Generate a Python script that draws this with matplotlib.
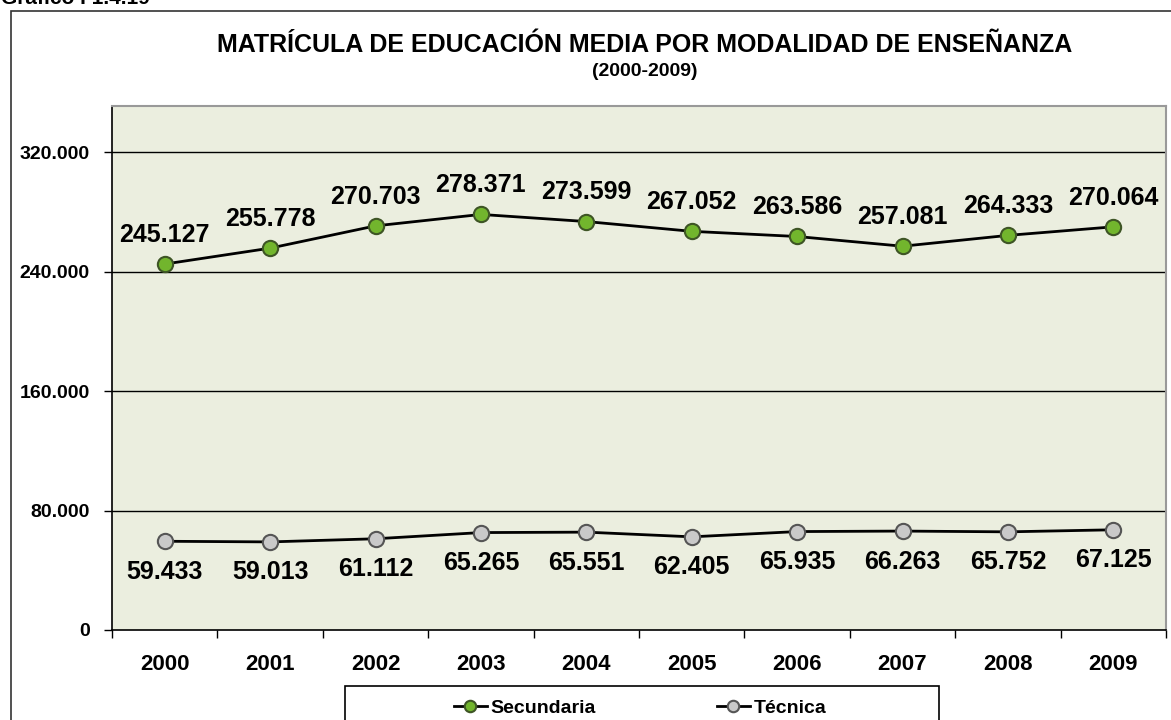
import numpy as np
import matplotlib.pyplot as plt
from matplotlib.patches import Rectangle

plt.rcParams['font.family'] = ['Liberation Sans', 'DejaVu Sans']
plt.rcParams['font.weight'] = 'bold'

years = ['2000', '2001', '2002', '2003', '2004', '2005', '2006', '2007', '2008', '2009']
secundaria = [245127, 255778, 270703, 278371, 273599, 267052, 263586, 257081, 264333, 270064]
tecnica = [59433, 59013, 61112, 65265, 65551, 62405, 65935, 66263, 65752, 67125]
yticks = [0, 80000, 160000, 240000, 320000]


def fmt(v):
    return f"{v:,}".replace(',', '.')


fig = plt.figure(figsize=(11.71, 7.2), dpi=100)
ax = fig.add_axes([112 / 1171, 1 - 630 / 720, 1054 / 1171, 524 / 720])
ax.set_facecolor('#EBEEDF')

x = np.arange(len(years))
ax.plot(x, secundaria, '-', color='black', lw=2, marker='o', ms=11,
        mfc='#72B52D', mec='#3E5525', mew=1.5, label='Secundaria', zorder=3)
ax.plot(x, tecnica, '-', color='black', lw=2, marker='o', ms=11,
        mfc='#C9C9C9', mec='#555555', mew=1.5, label='Técnica', zorder=3)

for xi, v in zip(x, secundaria):
    ax.annotate(fmt(v), (xi, v), xytext=(0, 21), textcoords='offset points',
                ha='center', va='center', fontsize=18, fontweight='bold')
for xi, v in zip(x, tecnica):
    ax.annotate(fmt(v), (xi, v), xytext=(0, -22), textcoords='offset points',
                ha='center', va='center', fontsize=18, fontweight='bold')

ax.set_xlim(-0.5, 9.5)
ax.set_ylim(0, 351000)
ax.set_yticks(yticks)
ax.set_yticklabels([fmt(v) for v in yticks], fontsize=14, fontweight='bold')
ax.set_xticks(x)
ax.set_xticklabels(years, fontsize=16, fontweight='bold')
ax.set_xticks(np.arange(-0.5, 10, 1), minor=True)
ax.tick_params(axis='x', which='major', length=0, pad=17)
ax.tick_params(axis='x', which='minor', length=6, width=1, direction='out')
ax.tick_params(axis='y', length=6, width=1, direction='out', pad=10)

for yv in yticks[1:]:
    ax.axhline(yv, color='black', lw=1, zorder=1)

ax.spines['left'].set_color('black')
ax.spines['bottom'].set_color('black')
ax.spines['left'].set_linewidth(1.2)
ax.spines['bottom'].set_linewidth(1.2)
ax.spines['top'].set_color('#999999')
ax.spines['right'].set_color('#999999')
ax.spines['top'].set_linewidth(1.5)
ax.spines['right'].set_linewidth(1.5)

fig.text(645 / 1171, 1 - 45 / 720, 'MATRÍCULA DE EDUCACIÓN MEDIA POR MODALIDAD DE ENSEÑANZA',
         ha='center', va='center', fontsize=18, fontweight='bold')
fig.text(645 / 1171, 1 - 72 / 720, '(2000-2009)',
         ha='center', va='center', fontsize=14, fontweight='bold')
fig.text(0.001, 1 - 4 / 720, 'Gráfico I 1.4.19', ha='left', va='baseline',
         fontsize=15, fontweight='bold')

fig.patches.append(Rectangle((11 / 1171, -0.05), 1.2, 1.05 - 11 / 720,
                             transform=fig.transFigure, fill=False,
                             edgecolor='#333333', lw=1.2))
fig.patches.append(Rectangle((345 / 1171, -0.05), 594 / 1171, 0.05 + 1 - 686 / 720,
                             transform=fig.transFigure, fill=False,
                             edgecolor='black', lw=1.2))

leg = fig.legend(loc='center', bbox_to_anchor=(640 / 1171, 1 - 708 / 720),
                 ncol=2, frameon=False, markerscale=0.75, handlelength=1.7,
                 handletextpad=0.2, columnspacing=6.2,
                 prop={'weight': 'bold', 'size': 14})

fig.savefig('out.png', dpi=100)
